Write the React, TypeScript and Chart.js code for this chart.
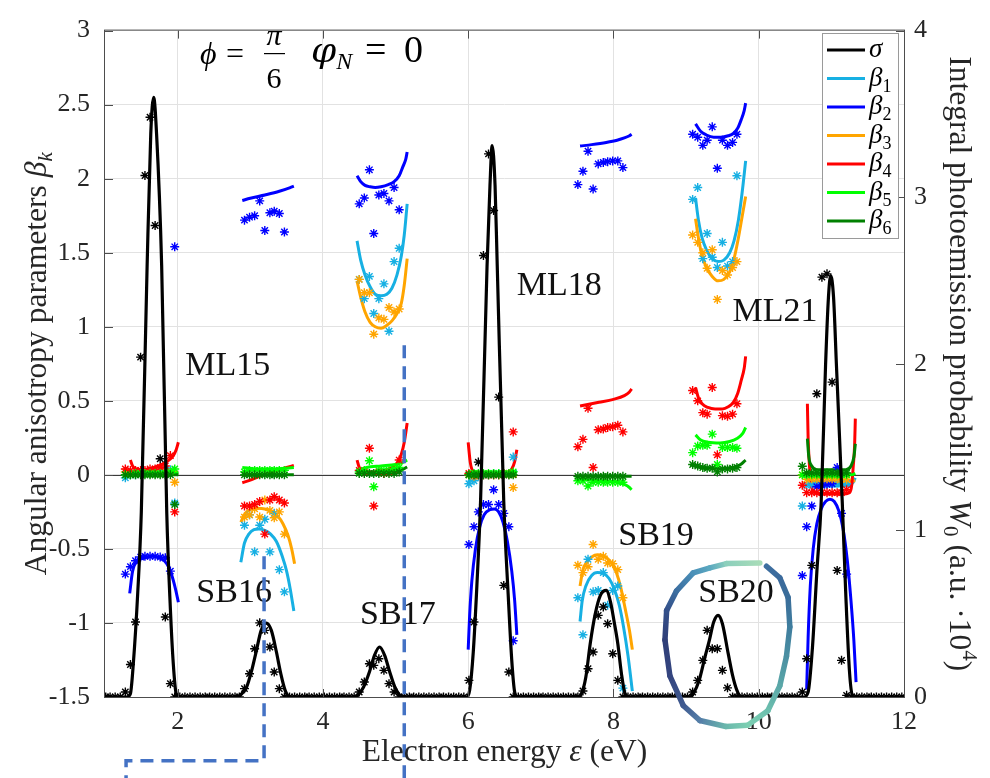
import React, { useEffect, useRef } from 'react';
import { Chart, registerables } from 'chart.js';

Chart.register(...registerables);

// ---------------- data ----------------
const xTicks = [2, 4, 6, 8, 10, 12];
const betaTicks = [-1.5, -1, -0.5, 0, 0.5, 1, 1.5, 2, 2.5, 3];
const probTicks = [0, 1, 2, 3, 4];

const seriesSymbol = ['σ', 'β', 'β', 'β', 'β', 'β', 'β'];
const seriesIndex = ['', '1', '2', '3', '4', '5', '6'];
const seriesColor = ['#000000', '#17b0e3', '#0000ff', '#ffa500', '#ff0000', '#00ff00', '#008000'];

// energy grid of the computed W0 points (eV)
const gridE = [
  1.01, 1.07, 1.14, 1.21, 1.28, 1.35, 1.42, 1.49, 1.55, 1.62,
  1.69, 1.76, 1.83, 1.90, 1.96, 2.03, 2.10, 2.17, 2.24, 2.31,
  2.38, 2.44, 2.51, 2.58, 2.65, 2.72, 2.79, 2.85, 2.92, 2.99,
  3.06, 3.13, 3.20, 3.27, 3.33, 3.40, 3.47, 3.54, 3.61, 3.68,
  3.75, 3.81, 3.88, 3.95, 4.02, 4.09, 4.16, 4.23, 4.29, 4.36,
  4.43, 4.50, 4.57, 4.64, 4.70, 4.77, 4.84, 4.91, 4.98, 5.05,
  5.12, 5.19, 5.25, 5.32, 5.39, 5.46, 5.53, 5.60, 5.66, 5.73,
  5.80, 5.87, 5.94, 6.01, 6.08, 6.14, 6.21, 6.28, 6.35, 6.42,
  6.49, 6.56, 6.62, 6.69, 6.76, 6.83, 6.90, 6.97, 7.03, 7.10,
  7.17, 7.24, 7.31, 7.38, 7.45, 7.51, 7.58, 7.65, 7.72, 7.79,
  7.86, 7.92, 7.99, 8.06, 8.13, 8.20, 8.27, 8.34, 8.40, 8.47,
  8.54, 8.61, 8.68, 8.75, 8.81, 8.88, 8.95, 9.02, 9.09, 9.16,
  9.23, 9.29, 9.36, 9.43, 9.50, 9.57, 9.64, 9.70, 9.77, 9.84,
  9.91, 9.98, 10.05, 10.12, 10.18, 10.25, 10.32, 10.39, 10.46, 10.53,
  10.60, 10.66, 10.73, 10.80, 10.87, 10.94, 11.01, 11.08, 11.14, 11.21,
  11.28, 11.35, 11.42, 11.49, 11.55, 11.62, 11.69, 11.76, 11.83, 11.90, 11.97,
];
// W0 points (right axis, a.u.·10^4) on that grid
const sigmaStarW = [
  0, 0, 0, 0, 0.03, 0.195, 0.45, 2.04, 3.13, 3.48,
  2.83, 1.43, 0.48, 0.08, 0, 0, 0, 0, 0, 0,
  0, 0, 0, 0, 0, 0, 0, 0, 0.05, 0.14,
  0.29, 0.445, 0.40, 0.30, 0.15, 0.05, 0, 0, 0, 0,
  0, 0, 0, 0, 0, 0, 0, 0, 0, 0,
  0, 0.03, 0.09, 0.20, 0.19, 0.23, 0.16, 0.08, 0.03, 0,
  0, 0, 0, 0, 0, 0, 0, 0, 0, 0,
  0, 0, 0, 0.10, 0.45, 1.41, 2.65, 3.26, 2.92, 1.80,
  0.67, 0.15, 0, 0, 0, 0, 0, 0, 0, 0,
  0, 0, 0, 0, 0, 0, 0.036, 0.17, 0.27, 0.49,
  0.54, 0.44, 0.26, 0.10, 0, 0, 0, 0, 0, 0,
  0, 0, 0, 0, 0, 0, 0, 0, 0.03, 0.10,
  0.22, 0.40, 0.29, 0.29, 0.16, 0.055, 0, 0, 0, 0,
  0, 0, 0, 0, 0, 0, 0, 0, 0, 0,
  0.03, 0.23, 0.79, 1.82, 2.52, 2.54, 1.89, 0.76, 0.22, 0.01,
  0, 0, 0, 0, 0, 0, 0, 0, 0, 0, 0,
];

// sigma model curve [E, W0]
const sigmaCurve = [
  [1.0, 0], [1.30, 0], [1.35, 0.02], [1.39, 0.20], [1.45, 0.62], [1.50, 1.11], [1.58, 2.59], [1.63, 3.38], [1.67, 3.60], [1.71, 3.38], [1.78, 2.59], [1.85, 1.11], [1.90, 0.53], [1.94, 0.20], [1.98, 0.02], [2.02, 0],
  [2.80, 0], [2.86, 0.01], [2.95, 0.06], [3.02, 0.16], [3.08, 0.27], [3.15, 0.40], [3.22, 0.444], [3.29, 0.40], [3.36, 0.27], [3.42, 0.14], [3.48, 0.04], [3.55, 0],
  [4.40, 0], [4.48, 0.01], [4.56, 0.06], [4.64, 0.15], [4.71, 0.25], [4.78, 0.30], [4.85, 0.25], [4.92, 0.15], [4.99, 0.06], [5.06, 0.01], [5.12, 0],
  [5.98, 0], [6.02, 0.04], [6.07, 0.27], [6.12, 0.67], [6.17, 1.17], [6.26, 2.59], [6.30, 3.07], [6.33, 3.31], [6.37, 3.07], [6.40, 2.59], [6.49, 1.17], [6.55, 0.62], [6.60, 0.22], [6.64, 0.03], [6.68, 0],
  [7.50, 0], [7.56, 0.02], [7.62, 0.12], [7.68, 0.32], [7.75, 0.50], [7.82, 0.61], [7.90, 0.64], [7.96, 0.57], [8.01, 0.45], [8.06, 0.32], [8.11, 0.14], [8.16, 0.02], [8.22, 0],
  [9.05, 0], [9.10, 0.02], [9.18, 0.10], [9.26, 0.24], [9.32, 0.34], [9.38, 0.45], [9.44, 0.49], [9.50, 0.44], [9.58, 0.26], [9.64, 0.13], [9.70, 0.04], [9.76, 0],
  [10.62, 0], [10.68, 0.03], [10.74, 0.30], [10.80, 0.75], [10.86, 1.17], [10.92, 1.99], [10.96, 2.40], [10.99, 2.53], [11.03, 2.40], [11.07, 1.99], [11.15, 1.17], [11.20, 0.60], [11.25, 0.15], [11.29, 0.01], [11.33, 0], [12.0, 0],
];

// energies of the beta_k data points (seven peaks)
const starE = [
  1.28, 1.35, 1.42, 1.49, 1.55, 1.62, 1.69, 1.76, 1.83, 1.90, 1.96,
  2.92, 2.99, 3.06, 3.13, 3.20, 3.27, 3.33, 3.40, 3.47,
  4.50, 4.57, 4.64, 4.70, 4.77, 4.84, 4.91, 4.98, 5.05,
  6.01, 6.08, 6.14, 6.21, 6.28, 6.35, 6.42, 6.49, 6.56, 6.62,
  7.51, 7.58, 7.65, 7.72, 7.79, 7.86, 7.92, 7.99, 8.06, 8.13,
  9.09, 9.16, 9.23, 9.29, 9.36, 9.43, 9.50, 9.57, 9.64, 9.70,
  10.60, 10.66, 10.73, 10.80, 10.87, 10.94, 11.01, 11.08, 11.14, 11.21,
];
const beta1Star = [
  -0.02, 0.00, 0.00, 0.01, 0.01, 0.01, 0.015, 0.02, 0.035, 0.035, -0.19,
  -0.34, -0.27, -0.52, -0.34, -0.30, -0.52, -0.26, -0.64, -0.79,
  1.32, 1.19, 1.34, 1.09, 1.19, 1.29, 0.97, 1.44, 1.53,
  -0.06, -0.04, -0.01, 0.00, 0.00, 0.01, 0.01, 0.00, 0.00, 0.12,
  -0.83, -1.08, -0.57, -0.79, -0.78, -0.66, -0.88, -0.78, -0.75, -1.44,
  1.86, 1.94, 1.46, 1.63, 1.47, 1.40, 1.57, 1.41, 1.44, 2.02,
  -0.21, -0.07, -0.065, -0.06, -0.065, -0.06, -0.06, -0.055, -0.06, -0.06,
];
const beta2Star = [
  -0.67, -0.62, -0.58, -0.555, -0.55, -0.55, -0.55, -0.555, -0.56, -0.65, 1.54,
  1.72, 1.74, 1.75, 1.85, 1.65, 1.77, 1.78, 1.765, 1.64,
  1.83, 1.87, 2.06, 1.63, 1.89, 1.90, 1.85, 1.94, 1.79,
  -0.47, -0.35, -0.25, -0.20, -0.20, -0.10, -0.20, -0.26, -0.35, -1.12,
  1.96, 2.05, 2.185, 1.93, 2.10, 2.11, 2.115, 2.12, 2.12, 2.075,
  2.30, 2.28, 2.225, 2.26, 2.35, 2.07, 2.26, 2.225, 2.245, 2.30,
  -0.68, -0.35, -0.21, -0.08, -0.07, -0.064, -0.06, 0.05, -0.26, -0.67,
];
const beta3Star = [
  0.02, 0.01, 0.01, 0.01, 0.01, 0.01, 0.01, 0.01, 0.02, 0.02, -0.05,
  -0.285, -0.27, -0.23, -0.285, -0.17, -0.24, -0.29, -0.25, -0.40,
  1.32, 1.23, 1.23, 0.95, 1.06, 1.05, 1.13, 1.10, 1.12,
  0.00, -0.01, 0.00, 0.00, 0.00, 0.00, 0.00, 0.00, 0.00, -0.086,
  -0.61, -0.66, -0.62, -0.47, -0.57, -0.55, -0.595, -0.60, -0.64, -0.83,
  1.62, 1.57, 1.50, 1.395, 1.52, 1.185, 1.38, 1.35, 1.40, 1.44,
  0.00, -0.03, -0.027, -0.027, -0.027, -0.027, -0.027, -0.027, -0.03, -0.03,
];
const beta4Star = [
  0.04, 0.03, 0.03, 0.03, 0.03, 0.04, 0.04, 0.05, 0.06, 0.13, -0.25,
  -0.21, -0.21, -0.20, -0.18, -0.40, -0.17, -0.148, -0.17, -0.19,
  0.03, 0.02, 0.18, -0.21, 0.02, 0.01, 0.02, 0.03, 0.10,
  0.01, 0.00, 0.00, 0.00, 0.00, 0.00, 0.00, 0.01, 0.01, 0.29,
  0.19, 0.24, 0.45, 0.05, 0.305, 0.31, 0.32, 0.325, 0.335, 0.29,
  0.57, 0.50, 0.42, 0.41, 0.59, 0.135, 0.40, 0.395, 0.41, 0.48,
  -0.07, -0.12, -0.12, -0.12, -0.12, -0.12, -0.12, -0.12, -0.12, -0.10,
];
const beta5Star = [
  0.00, 0.00, 0.01, 0.01, 0.01, 0.01, 0.01, 0.01, 0.01, 0.02, 0.04,
  0.02, 0.03, 0.03, 0.03, 0.03, 0.03, 0.03, 0.03, 0.03,
  0.02, 0.03, 0.095, -0.08, 0.03, 0.03, 0.03, 0.04, 0.05,
  0.00, 0.01, 0.01, 0.01, 0.01, 0.01, 0.01, 0.01, 0.01, 0.02,
  -0.04, -0.04, -0.075, -0.05, -0.05, -0.05, -0.05, -0.05, -0.05, -0.05,
  0.15, 0.195, 0.20, 0.20, 0.275, 0.07, 0.185, 0.185, 0.185, 0.18,
  0.00, 0.00, 0.00, 0.00, 0.00, 0.00, 0.00, 0.00, 0.00, 0.00,
];
const beta6Star = [
  0.00, 0.00, 0.00, 0.00, 0.00, 0.00, 0.00, 0.00, 0.00, 0.00, -0.20,
  0.00, 0.00, 0.00, 0.00, 0.00, 0.00, 0.00, 0.00, 0.00,
  0.01, 0.01, 0.01, 0.01, 0.01, 0.01, 0.01, 0.01, 0.02,
  0.00, 0.00, 0.00, 0.00, 0.00, 0.00, 0.00, 0.00, 0.00, 0.00,
  -0.01, -0.01, -0.01, -0.01, -0.01, -0.01, -0.01, -0.01, -0.01, -0.01,
  0.07, 0.06, 0.05, 0.045, 0.045, 0.02, 0.04, 0.04, 0.045, 0.05,
  0.058, 0.013, 0.013, 0.013, 0.013, 0.013, 0.013, 0.013, 0.013, 0.013,
];

// model curves for beta_k, one segment per peak: [E, beta]
const beta1Curve = [
  [[1.34, 0.0], [1.5, 0.005], [1.7, 0.01], [1.9, 0.015], [2.01, 0.02]],
  [[2.87, -0.59], [2.92, -0.46], [2.98, -0.40], [3.05, -0.37], [3.12, -0.365], [3.20, -0.375], [3.28, -0.40], [3.36, -0.45], [3.44, -0.55], [3.50, -0.65], [3.55, -0.77], [3.60, -0.92]],
  [[4.47, 1.58], [4.52, 1.45], [4.58, 1.35], [4.65, 1.27], [4.72, 1.22], [4.80, 1.21], [4.88, 1.22], [4.95, 1.26], [5.02, 1.35], [5.08, 1.48], [5.12, 1.62], [5.16, 1.83]],
  [[6.0, -0.05], [6.05, -0.02], [6.3, -0.01], [6.6, 0.0], [6.67, 0.03]],
  [[7.54, -0.99], [7.57, -0.85], [7.62, -0.75], [7.70, -0.68], [7.78, -0.66], [7.86, -0.665], [7.94, -0.70], [8.01, -0.77], [8.08, -0.88], [8.14, -1.03], [8.20, -1.22], [8.26, -1.46]],
  [[9.13, 1.87], [9.17, 1.72], [9.22, 1.60], [9.28, 1.52], [9.36, 1.46], [9.44, 1.44], [9.52, 1.45], [9.60, 1.50], [9.66, 1.58], [9.72, 1.72], [9.77, 1.90], [9.82, 2.12]],
  [[10.67, -0.02], [10.70, -0.06], [10.75, -0.07], [11.0, -0.075], [11.25, -0.07], [11.30, -0.05], [11.33, -0.02]],
];
const beta2Curve = [
  [[1.34, -0.80], [1.38, -0.65], [1.45, -0.58], [1.55, -0.56], [1.65, -0.55], [1.75, -0.56], [1.85, -0.60], [1.92, -0.68], [1.97, -0.77], [2.01, -0.86]],
  [[2.89, 1.853], [3.0, 1.868], [3.2, 1.89], [3.4, 1.915], [3.55, 1.94], [3.60, 1.95]],
  [[4.47, 2.02], [4.52, 1.98], [4.58, 1.955], [4.65, 1.945], [4.72, 1.94], [4.80, 1.945], [4.90, 1.96], [4.98, 1.98], [5.05, 2.02], [5.10, 2.08], [5.14, 2.13], [5.16, 2.18]],
  [[6.00, -1.18], [6.02, -0.95], [6.05, -0.72], [6.10, -0.50], [6.16, -0.35], [6.22, -0.27], [6.30, -0.235], [6.36, -0.23], [6.42, -0.25], [6.48, -0.32], [6.54, -0.45], [6.60, -0.65], [6.64, -0.85], [6.67, -1.08]],
  [[7.54, 2.22], [7.7, 2.23], [7.9, 2.245], [8.05, 2.26], [8.15, 2.275], [8.22, 2.29], [8.25, 2.30]],
  [[9.13, 2.37], [9.20, 2.32], [9.28, 2.295], [9.38, 2.28], [9.48, 2.28], [9.58, 2.29], [9.65, 2.305], [9.71, 2.34], [9.76, 2.40], [9.80, 2.46], [9.82, 2.51]],
  [[10.66, -1.45], [10.68, -1.1], [10.71, -0.75], [10.75, -0.50], [10.80, -0.33], [10.86, -0.23], [10.92, -0.18], [10.98, -0.165], [11.04, -0.18], [11.10, -0.24], [11.16, -0.36], [11.22, -0.58], [11.27, -0.85], [11.31, -1.12], [11.34, -1.40]],
];
const beta3Curve = [
  [[1.34, 0.01], [1.7, 0.01], [2.01, 0.02]],
  [[2.87, -0.32], [2.93, -0.26], [3.0, -0.235], [3.1, -0.225], [3.2, -0.23], [3.3, -0.25], [3.38, -0.28], [3.45, -0.33], [3.52, -0.41], [3.57, -0.50], [3.61, -0.60]],
  [[4.47, 1.31], [4.52, 1.20], [4.58, 1.10], [4.65, 1.03], [4.72, 1.0], [4.80, 0.99], [4.88, 1.01], [4.95, 1.04], [5.02, 1.09], [5.08, 1.16], [5.12, 1.28], [5.16, 1.46]],
  [[6.0, 0.0], [6.67, -0.01]],
  [[7.54, -0.75], [7.58, -0.64], [7.63, -0.59], [7.70, -0.555], [7.78, -0.54], [7.85, -0.545], [7.92, -0.565], [7.98, -0.60], [8.04, -0.66], [8.10, -0.76], [8.16, -0.90], [8.22, -1.05], [8.26, -1.18]],
  [[9.13, 1.73], [9.17, 1.60], [9.22, 1.48], [9.28, 1.40], [9.36, 1.34], [9.44, 1.31], [9.52, 1.32], [9.60, 1.37], [9.66, 1.46], [9.72, 1.60], [9.77, 1.74], [9.82, 1.88]],
  [[10.67, -0.04], [11.0, -0.05], [11.33, -0.04]],
];
const beta4Curve = [
  [[1.35, 0.10], [1.38, 0.06], [1.43, 0.04], [1.49, 0.035], [1.6, 0.04], [1.7, 0.055], [1.8, 0.075], [1.88, 0.10], [1.94, 0.13], [1.98, 0.17], [2.01, 0.22]],
  [[2.89, -0.053], [3.0, -0.035], [3.1, -0.015], [3.2, 0.005], [3.3, 0.02], [3.4, 0.035], [3.5, 0.05], [3.60, 0.064]],
  [[4.47, 0.10], [4.50, 0.05], [4.55, 0.03], [4.65, 0.02], [4.75, 0.02], [4.85, 0.03], [4.95, 0.05], [5.02, 0.08], [5.08, 0.14], [5.12, 0.22], [5.16, 0.35]],
  [[6.0, 0.22], [6.03, 0.08], [6.07, 0.025], [6.2, 0.01], [6.4, 0.01], [6.56, 0.02], [6.6, 0.04], [6.64, 0.09], [6.67, 0.17]],
  [[7.54, 0.465], [7.8, 0.49], [8.0, 0.51], [8.15, 0.535], [8.22, 0.56], [8.25, 0.58]],
  [[9.13, 0.59], [9.17, 0.52], [9.22, 0.48], [9.30, 0.455], [9.40, 0.445], [9.50, 0.445], [9.58, 0.46], [9.65, 0.49], [9.71, 0.55], [9.76, 0.64], [9.80, 0.72], [9.82, 0.80]],
  [[10.67, 0.48], [10.68, 0.25], [10.70, 0.05], [10.72, -0.06], [10.75, -0.11], [10.85, -0.13], [11.0, -0.13], [11.15, -0.13], [11.25, -0.12], [11.28, -0.07], [11.30, 0.05], [11.32, 0.20], [11.33, 0.38]],
];
const beta5Curve = [
  [[1.34, 0.01], [1.7, 0.01], [2.01, 0.01]],
  [[2.89, 0.05], [3.1, 0.04], [3.3, 0.04], [3.5, 0.045], [3.60, 0.05]],
  [[4.47, 0.02], [4.6, 0.05], [4.8, 0.06], [5.0, 0.07], [5.1, 0.085], [5.16, 0.10]],
  [[6.0, 0.02], [6.67, 0.02]],
  [[7.54, -0.03], [7.8, -0.04], [8.05, -0.05], [8.15, -0.065], [8.22, -0.085], [8.25, -0.10]],
  [[9.13, 0.27], [9.2, 0.235], [9.3, 0.22], [9.47, 0.215], [9.6, 0.225], [9.7, 0.245], [9.78, 0.28], [9.82, 0.32]],
  [[10.67, 0.02], [10.72, 0.0], [11.28, 0.0], [11.33, 0.01]],
];
const beta6Curve = [
  [[1.34, 0.0], [2.01, 0.0]],
  [[2.89, 0.0], [3.6, 0.0]],
  [[4.47, 0.01], [4.9, 0.015], [5.05, 0.025], [5.16, 0.053]],
  [[6.0, 0.0], [6.67, 0.0]],
  [[7.48, -0.01], [8.25, -0.01]],
  [[9.06, 0.07], [9.15, 0.055], [9.3, 0.045], [9.5, 0.045], [9.65, 0.05], [9.75, 0.07], [9.82, 0.10]],
  [[10.67, 0.245], [10.69, 0.12], [10.73, 0.06], [10.8, 0.035], [11.2, 0.035], [11.27, 0.06], [11.31, 0.12], [11.33, 0.21]],
];

// peak labels (left end of baseline, in data units)
const regionLabels = ['ML15', 'SB16', 'SB17', 'ML18', 'SB19', 'SB20', 'ML21'];
const regionLabelE = [2.106, 2.257, 4.512, 6.669, 8.066, 9.167, 9.640];
const regionLabelB = [0.672, -0.861, -1.004, 1.212, -0.473, -0.861, 1.042];

// hand-drawn overlay marks (data units)
const guideA = [[5.12, 0.876], [5.12, -2.06]];
const guideB = [[3.19, -0.55], [3.19, -1.93], [1.29, -1.93], [1.29, -2.06]];
const loopE = [10.107, 10.290, 10.404, 10.428, 10.382, 10.290, 10.125, 9.850, 9.548, 9.190, 8.960, 8.777, 8.709, 8.732, 8.869, 9.098, 9.327, 9.557, 10.015];
const loopB = [-0.617, -0.695, -0.827, -1.027, -1.226, -1.425, -1.593, -1.690, -1.699, -1.659, -1.557, -1.358, -1.115, -0.916, -0.783, -0.662, -0.628, -0.599, -0.595];
const loopColor = ['#3d6fa0', '#3b6a9c', '#3a6d9a', '#3f7d9e', '#4a8fa2', '#5aa7a8', '#6cbfae', '#7ccfb2', '#6ab8ac', '#557fa8', '#3f5a90', '#34457f', '#2f3f78', '#34508a', '#3c6ea0', '#4a90b8', '#5aa8c0', '#8ccfbc', '#a8dcb8'];

// ---------------- drawing helpers ----------------
const SERIF = '"Liberation Serif", "Times New Roman", serif';
const fnt = (size: number, style = '') => `${style} ${size}px ${SERIF}`.trim();

type Run = { t: string; size: number; style?: string; dy?: number; family?: string };
function runFont(r: Run) {
  return `${r.style || ''} ${r.size}px ${r.family || SERIF}`.trim();
}
function runsWidth(ctx: CanvasRenderingContext2D, runs: Run[]) {
  let w = 0;
  for (const r of runs) {
    ctx.font = runFont(r);
    w += ctx.measureText(r.t).width;
  }
  return w;
}
function drawRuns(ctx: CanvasRenderingContext2D, runs: Run[], x: number, y: number, center = false) {
  let cx = center ? x - runsWidth(ctx, runs) / 2 : x;
  for (const r of runs) {
    ctx.font = runFont(r);
    ctx.fillText(r.t, cx, y + (r.dy || 0));
    cx += ctx.measureText(r.t).width;
  }
}

const LBL = 31.5;
const SUB = 21;

const overlayPlugin = {
  id: 'overlay',
  beforeDatasetsDraw(chart: any) {
    const { ctx, chartArea: a, scales } = chart;
    const y0 = Math.round(scales.y.getPixelForValue(0)) + 0.5;
    ctx.save();
    ctx.strokeStyle = '#3a3a3a';
    ctx.lineWidth = 1;
    ctx.beginPath();
    ctx.moveTo(a.left, y0);
    ctx.lineTo(a.right, y0);
    ctx.stroke();
    ctx.restore();
  },
  afterDatasetsDraw(chart: any) {
    const { ctx, chartArea: a, scales } = chart;
    ctx.save();
    ctx.strokeStyle = '#4d4d4d';
    ctx.lineWidth = 1;
    ctx.strokeRect(a.left - 0.5, a.top - 0.5, a.right - a.left + 1, a.bottom - a.top + 1);
    const tl = 8;
    ctx.beginPath();
    for (const v of xTicks) {
      const px = Math.round(scales.x.getPixelForValue(v)) + 0.5;
      ctx.moveTo(px, a.bottom);
      ctx.lineTo(px, a.bottom - tl);
      ctx.moveTo(px, a.top);
      ctx.lineTo(px, a.top + tl);
    }
    for (const v of betaTicks) {
      const py = Math.round(scales.y.getPixelForValue(v)) + 0.5;
      ctx.moveTo(a.left, py);
      ctx.lineTo(a.left + tl, py);
    }
    for (const v of probTicks) {
      const py = Math.round(scales.y1.getPixelForValue(v)) + 0.5;
      ctx.moveTo(a.right, py);
      ctx.lineTo(a.right - tl, py);
    }
    ctx.stroke();
    ctx.restore();
  },
  afterDraw(chart: any) {
    const { ctx, chartArea: a, scales } = chart;
    const X = (v: number) => scales.x.getPixelForValue(v);
    const Y = (v: number) => scales.y.getPixelForValue(v);
    ctx.save();
    ctx.fillStyle = '#111';
    ctx.textAlign = 'left';
    ctx.textBaseline = 'alphabetic';

    // peak labels
    ctx.font = fnt(34);
    regionLabels.forEach((t, i) => ctx.fillText(t, X(regionLabelE[i]), Y(regionLabelB[i])));

    // title: phi = pi/6   phi_N = 0
    ctx.fillStyle = '#000';
    ctx.font = fnt(32, 'italic');
    ctx.fillText('ϕ', 200, 64);
    ctx.font = fnt(32);
    ctx.fillText('=', 226, 64);
    ctx.textAlign = 'center';
    ctx.font = fnt(30, 'italic');
    ctx.fillText('π', 274, 45);
    ctx.font = fnt(30);
    ctx.fillText('6', 274, 88);
    ctx.fillRect(264, 53, 21, 1.2);
    ctx.textAlign = 'left';
    drawRuns(ctx, [
      { t: 'φ', size: 36, style: 'italic', family: '"DejaVu Serif"' },
      { t: 'N', size: 24, style: 'italic', dy: 7 },
    ], 311, 62);
    ctx.font = fnt(38);
    ctx.fillText('=', 365, 62);
    ctx.fillText('0', 404, 62);

    // legend
    const lx = 822, ly = 33, lw = 76, lh = 205;
    ctx.fillStyle = '#ffffff';
    ctx.fillRect(lx, ly, lw, lh);
    ctx.strokeStyle = '#9a9a9a';
    ctx.lineWidth = 1;
    ctx.strokeRect(lx + 0.5, ly + 0.5, lw, lh);
    seriesSymbol.forEach((s, i) => {
      const yy = 50 + i * 28.5;
      ctx.strokeStyle = seriesColor[i];
      ctx.lineWidth = 3;
      ctx.beginPath();
      ctx.moveTo(827, yy);
      ctx.lineTo(865, yy);
      ctx.stroke();
      ctx.fillStyle = '#000';
      drawRuns(ctx, [
        { t: s, size: 27, style: 'italic' },
        { t: seriesIndex[i], size: 18, dy: 6 },
      ], 869, yy + 7);
    });

    // dashed guide lines
    ctx.strokeStyle = '#4472c4';
    ctx.lineWidth = 3.5;
    ctx.setLineDash([13, 8]);
    for (const path of [guideA, guideB]) {
      ctx.beginPath();
      path.forEach(([e, b], i) => (i ? ctx.lineTo(X(e), Y(b)) : ctx.moveTo(X(e), Y(b))));
      ctx.stroke();
    }
    ctx.setLineDash([]);

    // hand-drawn loop around SB20
    ctx.lineWidth = 5.5;
    ctx.lineCap = 'round';
    for (let i = 0; i < loopE.length - 1; i++) {
      const g = ctx.createLinearGradient(X(loopE[i]), Y(loopB[i]), X(loopE[i + 1]), Y(loopB[i + 1]));
      g.addColorStop(0, loopColor[i]);
      g.addColorStop(1, loopColor[i + 1]);
      ctx.strokeStyle = g;
      ctx.beginPath();
      ctx.moveTo(X(loopE[i]), Y(loopB[i]));
      ctx.lineTo(X(loopE[i + 1]), Y(loopB[i + 1]));
      ctx.stroke();
    }

    // axis titles
    ctx.fillStyle = '#262626';
    const midY = (a.top + a.bottom) / 2;
    drawRuns(ctx, [
      { t: 'Electron energy ', size: LBL },
      { t: 'ε', size: LBL, style: 'italic' },
      { t: ' (eV)', size: LBL },
    ], (a.left + a.right) / 2, 761, true);

    ctx.save();
    ctx.translate(35, midY);
    ctx.rotate(-Math.PI / 2);
    drawRuns(ctx, [
      { t: 'Angular anisotropy parameters ', size: LBL },
      { t: 'β', size: LBL, style: 'italic' },
      { t: 'k', size: SUB, style: 'italic', dy: 6 },
    ], 0, 11, true);
    ctx.restore();

    ctx.save();
    ctx.translate(961, midY);
    ctx.rotate(Math.PI / 2);
    drawRuns(ctx, [
      { t: 'Integral photoemission probability ', size: LBL },
      { t: 'W', size: LBL, style: 'italic' },
      { t: '0', size: SUB, dy: 6 },
      { t: ' (a.u. ·10', size: LBL },
      { t: '4', size: SUB, dy: -13 },
      { t: ')', size: LBL },
    ], 0, 11, true);
    ctx.restore();

    ctx.restore();
  },
};

export default function App() {
  const ref = useRef<HTMLCanvasElement>(null);

  useEffect(() => {
    const canvas = ref.current;
    if (!canvas) return;

    const betaStars = [beta1Star, beta2Star, beta3Star, beta4Star, beta5Star, beta6Star];
    const betaCurves = [beta1Curve, beta2Curve, beta3Curve, beta4Curve, beta5Curve, beta6Curve];
    const toPoints = (segs: number[][][]) => {
      const out: any[] = [];
      segs.forEach((seg, i) => {
        if (i > 0) out.push({ x: seg[0][0] - 0.01, y: null });
        seg.forEach(([x, y]) => out.push({ x, y }));
      });
      return out;
    };

    const datasets: any[] = [
      {
        label: 'σ',
        data: sigmaCurve.map(([x, y]) => ({ x, y })),
        yAxisID: 'y1',
        borderColor: '#000',
        borderWidth: 3.2,
        pointRadius: 0,
        cubicInterpolationMode: 'monotone',
        order: 0,
      },
      {
        label: 'σ points',
        data: gridE.map((x, i) => ({ x, y: sigmaStarW[i] })),
        yAxisID: 'y1',
        showLine: false,
        pointStyle: 'star',
        pointRadius: 4.5,
        pointBorderColor: '#000',
        pointBackgroundColor: '#000',
        pointBorderWidth: 1.4,
        order: 1,
      },
    ];
    for (let k = 0; k < 6; k++) {
      const color = seriesColor[k + 1];
      datasets.push({
        label: 'β' + (k + 1),
        data: toPoints(betaCurves[k]),
        yAxisID: 'y',
        borderColor: color,
        borderWidth: 3,
        pointRadius: 0,
        spanGaps: false,
        cubicInterpolationMode: 'monotone',
        order: 13 - k,
      });
      datasets.push({
        label: 'β' + (k + 1) + ' points',
        data: starE.map((x, i) => ({ x, y: betaStars[k][i] })),
        yAxisID: 'y',
        showLine: false,
        pointStyle: 'star',
        pointRadius: 4.5,
        pointBorderColor: color,
        pointBackgroundColor: color,
        pointBorderWidth: 1.4,
        order: 7 - k,
      });
    }

    const tickFont = { family: SERIF, size: 26 };
    const gridColor = '#e2e2e2';

    const chart = new Chart(canvas, {
      type: 'line',
      data: { datasets },
      options: {
        animation: false,
        responsive: false,
        devicePixelRatio: 1,
        layout: { padding: { top: 20, left: 0, right: 0, bottom: 0 } },
        plugins: { legend: { display: false }, tooltip: { enabled: false } },
        scales: {
          x: {
            type: 'linear',
            min: 1,
            max: 12,
            afterBuildTicks: (s: any) => { s.ticks = xTicks.map((v) => ({ value: v })); },
            afterFit: (s: any) => { s.height = 81; },
            grid: { color: gridColor, drawTicks: false },
            border: { display: false },
            ticks: { font: tickFont, color: '#262626', padding: 10, maxRotation: 0, callback: (v: any) => String(v) },
          },
          y: {
            type: 'linear',
            position: 'left',
            min: -1.5,
            max: 3,
            afterBuildTicks: (s: any) => { s.ticks = betaTicks.map((v) => ({ value: v })); },
            afterFit: (s: any) => { s.width = 105; },
            grid: { color: gridColor, drawTicks: false },
            border: { display: false },
            ticks: { font: tickFont, color: '#262626', padding: 15, callback: (v: any) => String(v) },
          },
          y1: {
            type: 'linear',
            position: 'right',
            min: 0,
            max: 4,
            afterBuildTicks: (s: any) => { s.ticks = probTicks.map((v) => ({ value: v })); },
            afterFit: (s: any) => { s.width = 86; },
            grid: { display: false, drawTicks: false },
            border: { display: false },
            ticks: { font: tickFont, color: '#262626', padding: 10, callback: (v: any) => String(v) },
          },
        },
      },
      plugins: [overlayPlugin],
    } as any);

    return () => chart.destroy();
  }, []);

  return (
    <div style={{ position: 'fixed', left: 0, top: 0, width: 990, height: 778, background: '#fff' }}>
      <canvas ref={ref} width={990} height={778} style={{ display: 'block' }} />
    </div>
  );
}
